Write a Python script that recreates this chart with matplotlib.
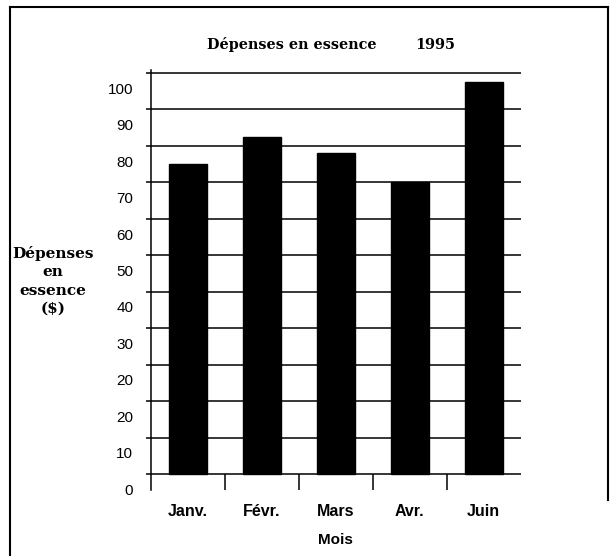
import matplotlib
matplotlib.use("Agg")
import matplotlib.pyplot as plt
import numpy as np
from matplotlib.lines import Line2D

# données
mois = ["Janv.", "Févr.", "Mars", "Avr.", "Juin"]
depenses = [85, 92.5, 88, 80, 107.5]
y_labels = ["0", "10", "20", "20", "30", "40", "50", "60", "70", "80", "90", "100"]

fig = plt.figure(figsize=(6.16, 5.56), dpi=100)
ax = fig.add_axes([150.7 / 616, 66 / 556, 370 / 616, 420 / 556])

x = np.arange(len(mois))
ax.bar(x, depenses, width=0.515, color="black", edgecolor="black", zorder=3)

ax.set_xlim(-0.5, len(mois) - 0.5)
ax.set_ylim(-4.4, 110.8)

# lignes horizontales (grille) + petits traits à gauche
grid = np.arange(len(y_labels)) * 10
ax.set_yticks(grid)
ax.set_yticklabels([])
ax.tick_params(axis="y", which="major", direction="out", length=3.4, width=1.1)
ax.grid(axis="y", which="major", color="black", linewidth=1.1, zorder=1)
ax.set_axisbelow(True)

# étiquettes décalées sous chaque ligne
ax.set_yticks(grid - 4.2, minor=True)
ax.set_yticklabels(y_labels, minor=True, fontsize=11, family="Liberation Sans")
ax.tick_params(axis="y", which="minor", length=0, pad=12.5)

for s in ["top", "right", "bottom"]:
    ax.spines[s].set_visible(False)
ax.spines["left"].set_linewidth(1.1)

# traits de séparation des mois
ax.vlines(x[:-1] + 0.5, -4.4, 0, color="black", linewidth=1.1, clip_on=False)

ax.set_xticks(x)
ax.set_xticklabels(mois, fontsize=11.5, fontweight="bold", family="Liberation Sans")
ax.tick_params(axis="x", length=0, pad=10)

fig.text(335 / 616, 1 - 540 / 556, "Mois", ha="center", va="center",
         fontsize=11, fontweight="bold", family="Liberation Sans")

fig.text(206.7 / 616, 1 - 45 / 556, "Dépenses en essence", ha="left", va="center",
         fontsize=10.4, fontweight="bold", family="DejaVu Serif")
fig.text(455 / 616, 1 - 45 / 556, "1995", ha="right", va="center",
         fontsize=10.4, fontweight="bold", family="DejaVu Serif")

fig.text(52.8 / 616, 1 - 281 / 556, "Dépenses\nen\nessence\n($)", ha="center", va="center",
         fontsize=11, fontweight="bold", family="DejaVu Serif", linespacing=1.4)

# cadre
fig.add_artist(Line2D([10 / 616, 10 / 616], [0, 1 - 7 / 556], color="black", lw=1.5))
fig.add_artist(Line2D([10 / 616, 608 / 616], [1 - 7 / 556, 1 - 7 / 556], color="black", lw=1.5))
fig.add_artist(Line2D([608 / 616, 608 / 616], [1 - 7 / 556, 1 - 500 / 556], color="black", lw=1.5))

fig.savefig("out.png", dpi=100)
